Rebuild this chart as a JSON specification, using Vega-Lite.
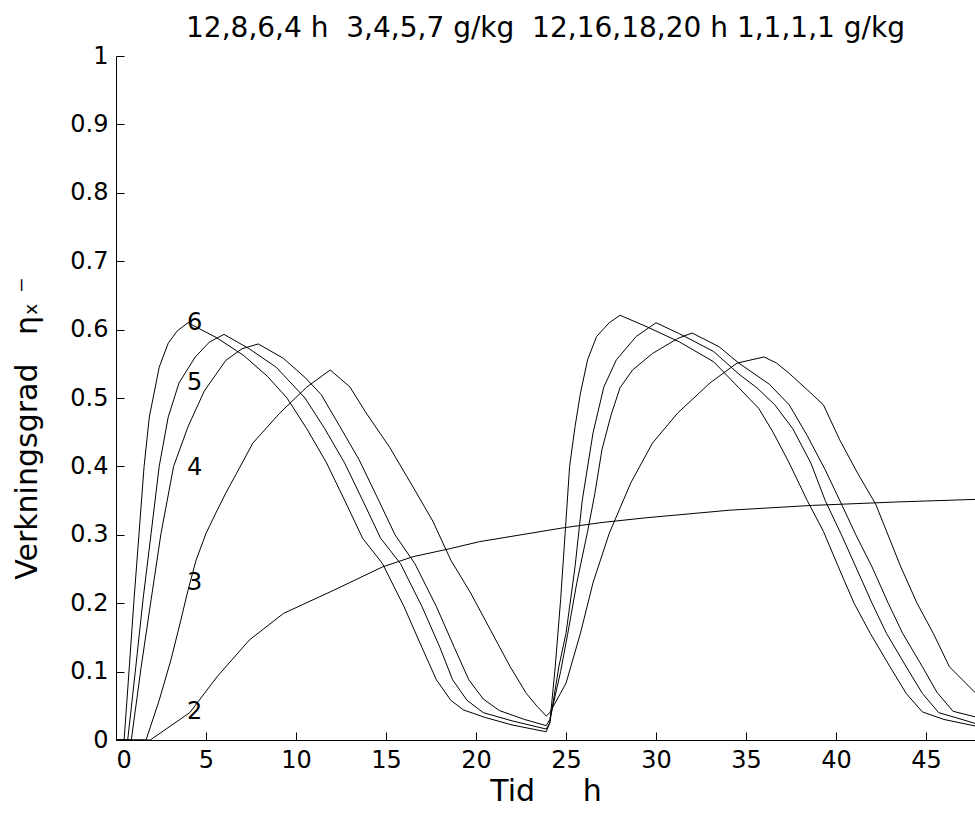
{
  "$schema": "https://vega.github.io/schema/vega-lite/v6.json",
  "autosize": {"type": "none"},
  "padding": {"left": 116, "top": 56, "right": 0, "bottom": 79},
  "width": 859,
  "height": 684,
  "background": "white",
  "config": {
    "view": {"stroke": null},
    "font": "DejaVu Sans",
    "axis": {"grid": false, "domainColor": "#000", "tickColor": "#000", "labelColor": "#000", "titleColor": "#000", "labelFont": "DejaVu Sans", "titleFont": "DejaVu Sans", "titleFontWeight": "normal", "labelFontSize": 24, "titleFontSize": 30, "tickSize": -8, "labelPadding": 16}
  },
  "title": {"text": "12,8,6,4 h\u00a0\u00a03,4,5,7 g/kg\u00a0\u00a012,16,18,20 h 1,1,1,1 g/kg", "fontSize": 28, "fontWeight": "normal", "font": "DejaVu Sans", "color": "#000", "anchor": "middle", "frame": "group", "baseline": "bottom", "offset": 8, "dy": 35},
  "datasets": {
    "curves": [
      {"c": "6", "x": 0, "y": 0}, {"c": "6", "x": 0.45, "y": 0}, {"c": "6", "x": 0.74, "y": 0.107}, {"c": "6", "x": 1.0, "y": 0.205}, {"c": "6", "x": 1.28, "y": 0.302}, {"c": "6", "x": 1.56, "y": 0.4}, {"c": "6", "x": 1.85, "y": 0.472}, {"c": "6", "x": 2.4, "y": 0.545}, {"c": "6", "x": 2.9, "y": 0.58}, {"c": "6", "x": 3.4, "y": 0.598}, {"c": "6", "x": 4.0, "y": 0.61},
      {"c": "6", "x": 5.6, "y": 0.588}, {"c": "6", "x": 7.1, "y": 0.562}, {"c": "6", "x": 8.4, "y": 0.532}, {"c": "6", "x": 9.5, "y": 0.5}, {"c": "6", "x": 10.6, "y": 0.455}, {"c": "6", "x": 11.7, "y": 0.405}, {"c": "6", "x": 12.8, "y": 0.345}, {"c": "6", "x": 13.7, "y": 0.295}, {"c": "6", "x": 14.8, "y": 0.258}, {"c": "6", "x": 16.0, "y": 0.195}, {"c": "6", "x": 17.0, "y": 0.135}, {"c": "6", "x": 17.8, "y": 0.088}, {"c": "6", "x": 18.6, "y": 0.058}, {"c": "6", "x": 19.3, "y": 0.044}, {"c": "6", "x": 20.5, "y": 0.033}, {"c": "6", "x": 22.0, "y": 0.022}, {"c": "6", "x": 23.9, "y": 0.012},
      {"c": "6", "x": 24.1, "y": 0.025}, {"c": "6", "x": 24.4, "y": 0.107}, {"c": "6", "x": 24.7, "y": 0.205}, {"c": "6", "x": 24.95, "y": 0.302}, {"c": "6", "x": 25.2, "y": 0.4}, {"c": "6", "x": 25.5, "y": 0.458}, {"c": "6", "x": 25.8, "y": 0.507}, {"c": "6", "x": 26.2, "y": 0.556}, {"c": "6", "x": 26.7, "y": 0.59}, {"c": "6", "x": 27.4, "y": 0.61}, {"c": "6", "x": 28.0, "y": 0.621},
      {"c": "6", "x": 29.5, "y": 0.604}, {"c": "6", "x": 31.3, "y": 0.582}, {"c": "6", "x": 33.2, "y": 0.553}, {"c": "6", "x": 34.6, "y": 0.515}, {"c": "6", "x": 35.7, "y": 0.485}, {"c": "6", "x": 36.5, "y": 0.45}, {"c": "6", "x": 37.4, "y": 0.405}, {"c": "6", "x": 38.4, "y": 0.35}, {"c": "6", "x": 39.3, "y": 0.305}, {"c": "6", "x": 40.1, "y": 0.255}, {"c": "6", "x": 41.0, "y": 0.2}, {"c": "6", "x": 41.9, "y": 0.156}, {"c": "6", "x": 43.0, "y": 0.107}, {"c": "6", "x": 43.9, "y": 0.068}, {"c": "6", "x": 44.8, "y": 0.041}, {"c": "6", "x": 46.0, "y": 0.03}, {"c": "6", "x": 48.0, "y": 0.019},

      {"c": "5", "x": 0, "y": 0}, {"c": "5", "x": 0.65, "y": 0}, {"c": "5", "x": 1.1, "y": 0.107}, {"c": "5", "x": 1.5, "y": 0.205}, {"c": "5", "x": 1.95, "y": 0.302}, {"c": "5", "x": 2.4, "y": 0.4}, {"c": "5", "x": 2.9, "y": 0.472}, {"c": "5", "x": 3.5, "y": 0.522}, {"c": "5", "x": 4.4, "y": 0.56}, {"c": "5", "x": 5.2, "y": 0.582}, {"c": "5", "x": 6.0, "y": 0.593},
      {"c": "5", "x": 7.4, "y": 0.572}, {"c": "5", "x": 8.9, "y": 0.545}, {"c": "5", "x": 10.5, "y": 0.5}, {"c": "5", "x": 11.6, "y": 0.455}, {"c": "5", "x": 12.7, "y": 0.405}, {"c": "5", "x": 13.8, "y": 0.345}, {"c": "5", "x": 14.7, "y": 0.295}, {"c": "5", "x": 15.8, "y": 0.258}, {"c": "5", "x": 17.0, "y": 0.195}, {"c": "5", "x": 18.0, "y": 0.135}, {"c": "5", "x": 18.7, "y": 0.088}, {"c": "5", "x": 19.5, "y": 0.058}, {"c": "5", "x": 20.4, "y": 0.04}, {"c": "5", "x": 22.0, "y": 0.028}, {"c": "5", "x": 23.9, "y": 0.016},
      {"c": "5", "x": 24.1, "y": 0.025}, {"c": "5", "x": 24.6, "y": 0.107}, {"c": "5", "x": 25.0, "y": 0.156}, {"c": "5", "x": 25.5, "y": 0.253}, {"c": "5", "x": 25.9, "y": 0.35}, {"c": "5", "x": 26.5, "y": 0.449}, {"c": "5", "x": 27.1, "y": 0.516}, {"c": "5", "x": 27.8, "y": 0.556}, {"c": "5", "x": 28.9, "y": 0.59}, {"c": "5", "x": 30.0, "y": 0.61},
      {"c": "5", "x": 31.3, "y": 0.594}, {"c": "5", "x": 33.2, "y": 0.568}, {"c": "5", "x": 34.6, "y": 0.535}, {"c": "5", "x": 35.6, "y": 0.515}, {"c": "5", "x": 36.6, "y": 0.49}, {"c": "5", "x": 37.6, "y": 0.455}, {"c": "5", "x": 38.6, "y": 0.405}, {"c": "5", "x": 39.4, "y": 0.35}, {"c": "5", "x": 40.3, "y": 0.3}, {"c": "5", "x": 41.1, "y": 0.253}, {"c": "5", "x": 42.0, "y": 0.2}, {"c": "5", "x": 42.8, "y": 0.156}, {"c": "5", "x": 43.9, "y": 0.107}, {"c": "5", "x": 44.8, "y": 0.068}, {"c": "5", "x": 45.7, "y": 0.04}, {"c": "5", "x": 47.0, "y": 0.03}, {"c": "5", "x": 48.0, "y": 0.022},

      {"c": "4", "x": 0, "y": 0}, {"c": "4", "x": 0.85, "y": 0}, {"c": "4", "x": 1.4, "y": 0.107}, {"c": "4", "x": 1.95, "y": 0.205}, {"c": "4", "x": 2.5, "y": 0.302}, {"c": "4", "x": 3.2, "y": 0.4}, {"c": "4", "x": 4.0, "y": 0.458}, {"c": "4", "x": 4.9, "y": 0.51}, {"c": "4", "x": 6.1, "y": 0.555}, {"c": "4", "x": 7.0, "y": 0.572}, {"c": "4", "x": 7.9, "y": 0.579},
      {"c": "4", "x": 9.3, "y": 0.558}, {"c": "4", "x": 10.5, "y": 0.53}, {"c": "4", "x": 11.4, "y": 0.505}, {"c": "4", "x": 12.4, "y": 0.46}, {"c": "4", "x": 13.5, "y": 0.41}, {"c": "4", "x": 14.6, "y": 0.35}, {"c": "4", "x": 15.5, "y": 0.3}, {"c": "4", "x": 16.6, "y": 0.258}, {"c": "4", "x": 17.8, "y": 0.195}, {"c": "4", "x": 18.8, "y": 0.135}, {"c": "4", "x": 19.6, "y": 0.088}, {"c": "4", "x": 20.4, "y": 0.06}, {"c": "4", "x": 21.3, "y": 0.043}, {"c": "4", "x": 22.7, "y": 0.03}, {"c": "4", "x": 23.9, "y": 0.021},
      {"c": "4", "x": 24.1, "y": 0.03}, {"c": "4", "x": 24.7, "y": 0.1}, {"c": "4", "x": 25.1, "y": 0.156}, {"c": "4", "x": 25.6, "y": 0.23}, {"c": "4", "x": 26.2, "y": 0.305}, {"c": "4", "x": 26.6, "y": 0.36}, {"c": "4", "x": 27.0, "y": 0.425}, {"c": "4", "x": 27.5, "y": 0.475}, {"c": "4", "x": 28.0, "y": 0.515}, {"c": "4", "x": 28.7, "y": 0.541}, {"c": "4", "x": 29.8, "y": 0.565}, {"c": "4", "x": 31.2, "y": 0.587}, {"c": "4", "x": 32.0, "y": 0.595},
      {"c": "4", "x": 33.5, "y": 0.575}, {"c": "4", "x": 34.6, "y": 0.551}, {"c": "4", "x": 36.3, "y": 0.52}, {"c": "4", "x": 37.4, "y": 0.49}, {"c": "4", "x": 38.4, "y": 0.445}, {"c": "4", "x": 39.4, "y": 0.395}, {"c": "4", "x": 40.3, "y": 0.345}, {"c": "4", "x": 41.1, "y": 0.3}, {"c": "4", "x": 42.0, "y": 0.253}, {"c": "4", "x": 42.9, "y": 0.2}, {"c": "4", "x": 43.7, "y": 0.156}, {"c": "4", "x": 44.8, "y": 0.107}, {"c": "4", "x": 45.6, "y": 0.07}, {"c": "4", "x": 46.5, "y": 0.042}, {"c": "4", "x": 48.0, "y": 0.032},

      {"c": "3", "x": 0, "y": 0}, {"c": "3", "x": 1.67, "y": 0}, {"c": "3", "x": 2.4, "y": 0.058}, {"c": "3", "x": 3.05, "y": 0.117}, {"c": "3", "x": 3.6, "y": 0.175}, {"c": "3", "x": 4.0, "y": 0.219}, {"c": "3", "x": 4.45, "y": 0.263}, {"c": "3", "x": 5.0, "y": 0.302}, {"c": "3", "x": 5.55, "y": 0.332}, {"c": "3", "x": 6.1, "y": 0.361}, {"c": "3", "x": 6.7, "y": 0.39}, {"c": "3", "x": 7.6, "y": 0.434}, {"c": "3", "x": 9.1, "y": 0.478}, {"c": "3", "x": 10.6, "y": 0.516}, {"c": "3", "x": 11.9, "y": 0.541},
      {"c": "3", "x": 13.0, "y": 0.516}, {"c": "3", "x": 13.9, "y": 0.478}, {"c": "3", "x": 15.2, "y": 0.428}, {"c": "3", "x": 16.5, "y": 0.37}, {"c": "3", "x": 17.6, "y": 0.32}, {"c": "3", "x": 18.6, "y": 0.263}, {"c": "3", "x": 19.7, "y": 0.215}, {"c": "3", "x": 20.8, "y": 0.161}, {"c": "3", "x": 21.9, "y": 0.107}, {"c": "3", "x": 22.8, "y": 0.068}, {"c": "3", "x": 23.4, "y": 0.049}, {"c": "3", "x": 23.9, "y": 0.035},
      {"c": "3", "x": 24.1, "y": 0.04}, {"c": "3", "x": 25.0, "y": 0.083}, {"c": "3", "x": 25.8, "y": 0.156}, {"c": "3", "x": 26.5, "y": 0.23}, {"c": "3", "x": 27.4, "y": 0.302}, {"c": "3", "x": 28.6, "y": 0.376}, {"c": "3", "x": 29.8, "y": 0.434}, {"c": "3", "x": 31.2, "y": 0.478}, {"c": "3", "x": 33.0, "y": 0.522}, {"c": "3", "x": 34.5, "y": 0.551}, {"c": "3", "x": 36.0, "y": 0.56},
      {"c": "3", "x": 36.7, "y": 0.551}, {"c": "3", "x": 37.4, "y": 0.536}, {"c": "3", "x": 38.4, "y": 0.512}, {"c": "3", "x": 39.3, "y": 0.49}, {"c": "3", "x": 40.2, "y": 0.439}, {"c": "3", "x": 41.2, "y": 0.39}, {"c": "3", "x": 42.2, "y": 0.345}, {"c": "3", "x": 43.6, "y": 0.253}, {"c": "3", "x": 44.5, "y": 0.2}, {"c": "3", "x": 45.4, "y": 0.156}, {"c": "3", "x": 46.3, "y": 0.107}, {"c": "3", "x": 47.7, "y": 0.07}, {"c": "3", "x": 48.0, "y": 0.064},

      {"c": "2", "x": 0, "y": 0}, {"c": "2", "x": 1.9, "y": 0}, {"c": "2", "x": 3.0, "y": 0.02}, {"c": "2", "x": 4.1, "y": 0.04}, {"c": "2", "x": 5.6, "y": 0.092}, {"c": "2", "x": 7.4, "y": 0.146}, {"c": "2", "x": 9.3, "y": 0.185}, {"c": "2", "x": 12.1, "y": 0.219}, {"c": "2", "x": 14.8, "y": 0.253}, {"c": "2", "x": 16.5, "y": 0.268}, {"c": "2", "x": 18.6, "y": 0.28}, {"c": "2", "x": 20.2, "y": 0.29}, {"c": "2", "x": 22.5, "y": 0.3}, {"c": "2", "x": 24.8, "y": 0.31}, {"c": "2", "x": 27.0, "y": 0.318}, {"c": "2", "x": 29.5, "y": 0.325}, {"c": "2", "x": 34.1, "y": 0.336}, {"c": "2", "x": 38.7, "y": 0.343}, {"c": "2", "x": 43.4, "y": 0.348}, {"c": "2", "x": 48.0, "y": 0.352}
    ],
    "labels": [
      {"t": "6", "x": 3.95, "y": 0.61},
      {"t": "5", "x": 3.95, "y": 0.522},
      {"t": "4", "x": 3.95, "y": 0.398},
      {"t": "3", "x": 3.95, "y": 0.23},
      {"t": "2", "x": 3.95, "y": 0.041}
    ]
  },
  "layer": [
    {
      "data": {"name": "curves"},
      "mark": {"type": "line", "color": "#000", "strokeWidth": 1, "clip": true},
      "encoding": {
        "x": {"field": "x", "type": "quantitative", "scale": {"domain": [0, 47.72], "nice": false, "zero": false},
              "axis": {"values": [0, 5, 10, 15, 20, 25, 30, 35, 40, 45], "title": "Tid\u00a0\u00a0\u00a0\u00a0\u00a0h", "titleY": 60, "titleBaseline": "alphabetic"}},
        "y": {"field": "y", "type": "quantitative", "scale": {"domain": [0, 1], "nice": false},
              "axis": {"values": [0, 0.1, 0.2, 0.3, 0.4, 0.5, 0.6, 0.7, 0.8, 0.9, 1], "format": "~g", "title": "Verkningsgrad\u00a0\u00a0\u00a0ηₓ\u00a0⁻", "titleX": -80, "titleY": 372, "titleBaseline": "alphabetic"}},
        "detail": {"field": "c"}
      }
    },
    {
      "data": {"name": "labels"},
      "mark": {"type": "text", "align": "left", "baseline": "middle", "fontSize": 24, "font": "DejaVu Sans", "color": "#000"},
      "encoding": {
        "x": {"field": "x", "type": "quantitative"},
        "y": {"field": "y", "type": "quantitative"},
        "text": {"field": "t"}
      }
    }
  ]
}
